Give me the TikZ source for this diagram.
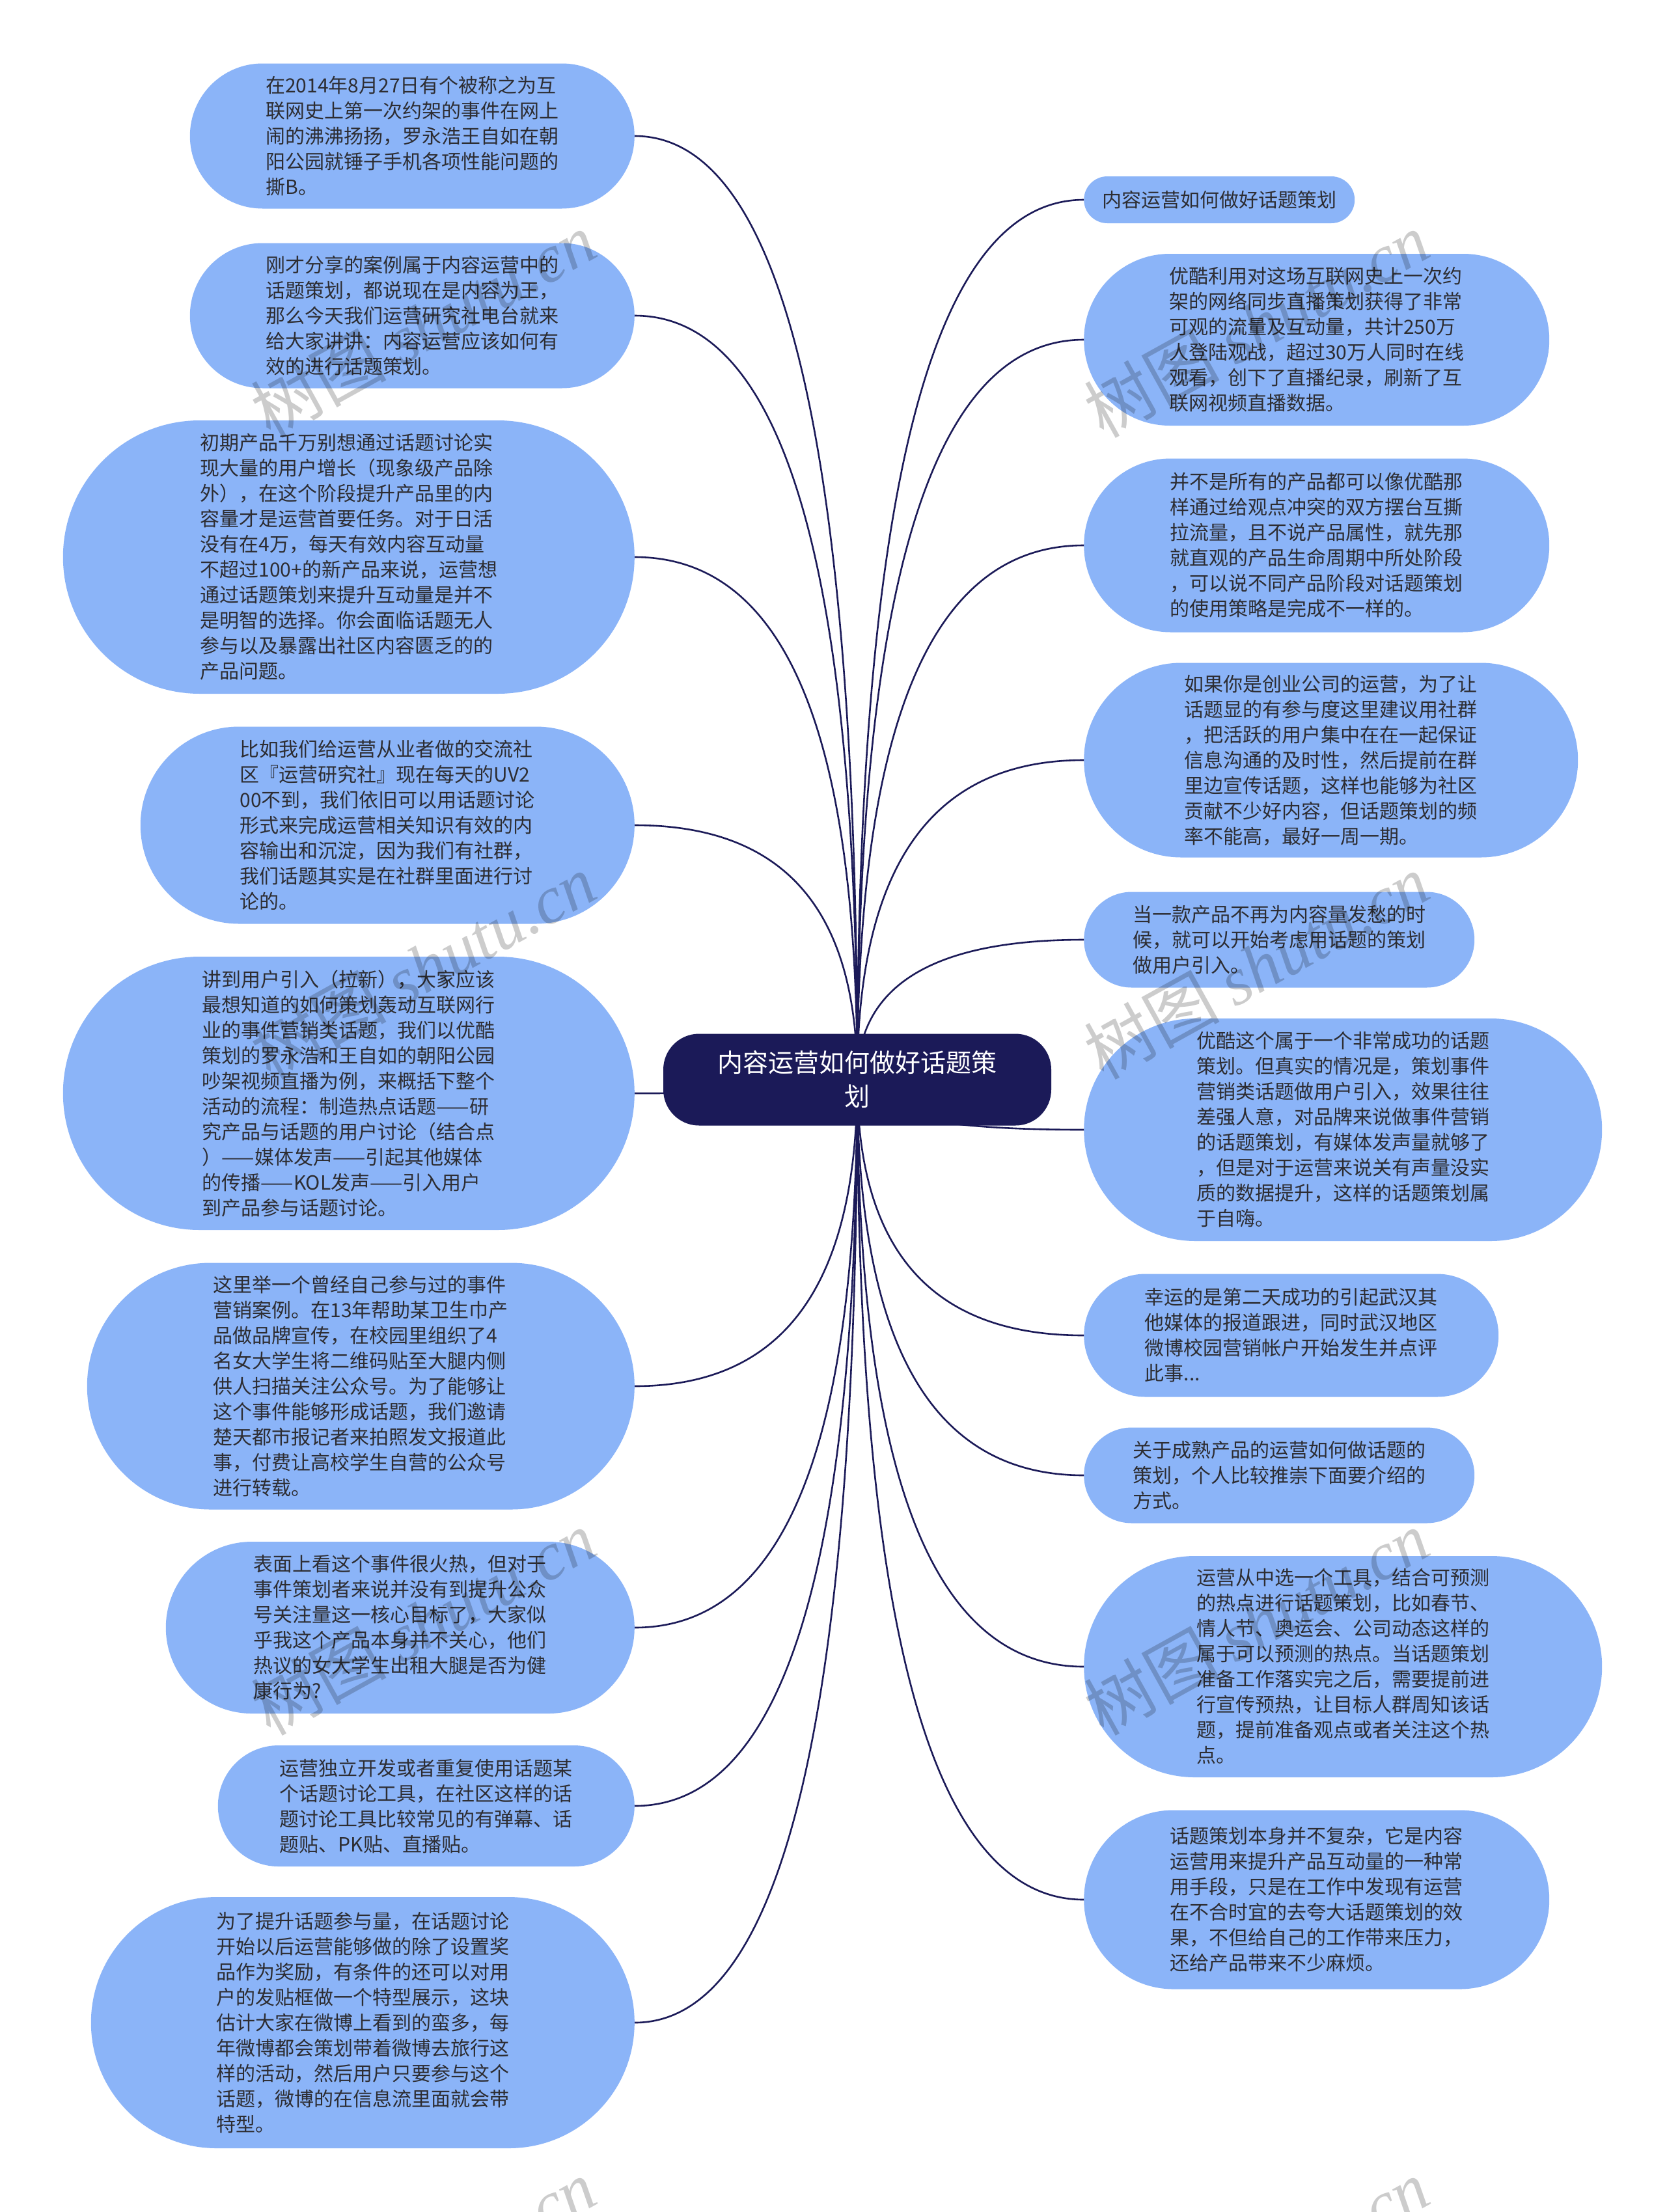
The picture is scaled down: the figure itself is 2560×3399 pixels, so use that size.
\documentclass[tikz,border=0pt]{standalone}
\usepackage{fontspec}
\setmainfont{Noto Sans CJK SC}
\newfontfamily\wmlatin{Liberation Serif}
\usetikzlibrary{shapes.misc,calc}
\definecolor{sky}{RGB}{139,180,248}
\definecolor{navy}{RGB}{27,26,88}
\definecolor{ink}{RGB}{45,45,50}
\tikzset{
  topic/.style={rounded rectangle,fill=sky,text=ink,inner xsep=0pt,inner ysep=0pt,
    align=left,font=\fontsize{30}{39}\selectfont},
  left topic/.style={topic,anchor=east},
  right topic/.style={topic,anchor=west},
  sz/.style 2 args={minimum width=#1,minimum height=#2},
  root/.style={fill=navy,text=white,rounded corners=55pt,inner sep=0pt,
    minimum width=596,minimum height=141,align=center,font=\fontsize{39}{52}\selectfont},
  link/.style={draw=navy,line width=2.6pt},
  wmark/.style={rotate=29,text=black,opacity=0.2,font=\fontsize{104}{104}\selectfont},
}
\begin{document}
\begin{tikzpicture}[x=1pt,y=-1pt]
  \useasboundingbox[fill=white] (0,0) rectangle (2560,3399);
  % left branch
  \node[left topic,sz={683}{223}] (l1) at (975,209) {在2014年8月27日有个被称之为互\\联网史上第一次约架的事件在网上\\闹的沸沸扬扬，罗永浩王自如在朝\\阳公园就锤子手机各项性能问题的\\撕B。};
  \node[left topic,sz={683}{223}] (l2) at (975,485) {刚才分享的案例属于内容运营中的\\话题策划，都说现在是内容为王，\\那么今天我们运营研究社电台就来\\给大家讲讲：内容运营应该如何有\\效的进行话题策划。};
  \node[left topic,sz={878}{420}] (l3) at (975,856) {初期产品千万别想通过话题讨论实\\现大量的用户增长（现象级产品除\\外），在这个阶段提升产品里的内\\容量才是运营首要任务。对于日活\\没有在4万，每天有效内容互动量\\不超过100+的新产品来说，运营想\\通过话题策划来提升互动量是并不\\是明智的选择。你会面临话题无人\\参与以及暴露出社区内容匮乏的的\\产品问题。};
  \node[left topic,sz={759}{303}] (l4) at (975,1268) {比如我们给运营从业者做的交流社\\区『运营研究社』现在每天的UV2\\00不到，我们依旧可以用话题讨论\\形式来完成运营相关知识有效的内\\容输出和沉淀，因为我们有社群，\\我们话题其实是在社群里面进行讨\\论的。};
  \node[left topic,sz={878}{420}] (l5) at (975,1680) {讲到用户引入（拉新），大家应该\\最想知道的如何策划轰动互联网行\\业的事件营销类话题，我们以优酷\\策划的罗永浩和王自如的朝阳公园\\吵架视频直播为例，来概括下整个\\活动的流程：制造热点话题——研\\究产品与话题的用户讨论（结合点\\）——媒体发声——引起其他媒体\\的传播——KOL发声——引入用户\\到产品参与话题讨论。};
  \node[left topic,sz={841}{379}] (l6) at (975,2130) {这里举一个曾经自己参与过的事件\\营销案例。在13年帮助某卫生巾产\\品做品牌宣传，在校园里组织了4\\名女大学生将二维码贴至大腿内侧\\供人扫描关注公众号。为了能够让\\这个事件能够形成话题，我们邀请\\楚天都市报记者来拍照发文报道此\\事，付费让高校学生自营的公众号\\进行转载。};
  \node[left topic,sz={720}{264}] (l7) at (975,2501) {表面上看这个事件很火热，但对于\\事件策划者来说并没有到提升公众\\号关注量这一核心目标了，大家似\\乎我这个产品本身并不关心，他们\\热议的女大学生出租大腿是否为健\\康行为?};
  \node[left topic,sz={640}{186}] (l8) at (975,2775) {运营独立开发或者重复使用话题某\\个话题讨论工具，在社区这样的话\\题讨论工具比较常见的有弹幕、话\\题贴、PK贴、直播贴。};
  \node[left topic,sz={835}{386}] (l9) at (975,3108) {为了提升话题参与量，在话题讨论\\开始以后运营能够做的除了设置奖\\品作为奖励，有条件的还可以对用\\户的发贴框做一个特型展示，这块\\估计大家在微博上看到的蛮多，每\\年微博都会策划带着微博去旅行这\\样的活动，然后用户只要参与这个\\话题，微博的在信息流里面就会带\\特型。};
  % right branch
  \node[right topic,sz={416}{72}] (r1) at (1665,307) {内容运营如何做好话题策划};
  \node[right topic,sz={715}{264}] (r2) at (1665,522) {优酷利用对这场互联网史上一次约\\架的网络同步直播策划获得了非常\\可观的流量及互动量，共计250万\\人登陆观战，超过30万人同时在线\\观看，创下了直播纪录，刷新了互\\联网视频直播数据。};
  \node[right topic,sz={715}{267}] (r3) at (1665,838) {并不是所有的产品都可以像优酷那\\样通过给观点冲突的双方摆台互撕\\拉流量，且不说产品属性，就先那\\就直观的产品生命周期中所处阶段\\，可以说不同产品阶段对话题策划\\的使用策略是完成不一样的。};
  \node[right topic,sz={759}{299}] (r4) at (1665,1168) {如果你是创业公司的运营，为了让\\话题显的有参与度这里建议用社群\\，把活跃的用户集中在在一起保证\\信息沟通的及时性，然后提前在群\\里边宣传话题，这样也能够为社区\\贡献不少好内容，但话题策划的频\\率不能高，最好一周一期。};
  \node[right topic,sz={600}{147}] (r5) at (1665,1444) {当一款产品不再为内容量发愁的时\\候，就可以开始考虑用话题的策划\\做用户引入。};
  \node[right topic,sz={796}{342}] (r6) at (1665,1736) {优酷这个属于一个非常成功的话题\\策划。但真实的情况是，策划事件\\营销类话题做用户引入，效果往往\\差强人意，对品牌来说做事件营销\\的话题策划，有媒体发声量就够了\\，但是对于运营来说关有声量没实\\质的数据提升，这样的话题策划属\\于自嗨。};
  \node[right topic,sz={637}{189}] (r7) at (1665,2052) {幸运的是第二天成功的引起武汉其\\他媒体的报道跟进，同时武汉地区\\微博校园营销帐户开始发生并点评\\此事...};
  \node[right topic,sz={600}{147}] (r8) at (1665,2267) {关于成熟产品的运营如何做话题的\\策划，个人比较推崇下面要介绍的\\方式。};
  \node[right topic,sz={796}{340}] (r9) at (1665,2561) {运营从中选一个工具，结合可预测\\的热点进行话题策划，比如春节、\\情人节、奥运会、公司动态这样的\\属于可以预测的热点。当话题策划\\准备工作落实完之后，需要提前进\\行宣传预热，让目标人群周知该话\\题，提前准备观点或者关注这个热\\点。};
  \node[right topic,sz={715}{275}] (r10) at (1665,2919) {话题策划本身并不复杂，它是内容\\运营用来提升产品互动量的一种常\\用手段，只是在工作中发现有运营\\在不合时宜的去夸大话题策划的效\\果，不但给自己的工作带来压力，\\还给产品带来不少麻烦。};
  % connectors, hidden under the root
  \coordinate (hub) at (1317,1659);
  \foreach \n in {l1,l2,l3,l4,l5,l6,l7,l8,l9}
    \draw[link] (hub) .. controls ($(hub)!0.67!(hub |- \n.east)$) and ($(\n.east)!0.67!(hub |- \n.east)$) .. (\n.east);
  \foreach \n in {r1,r2,r3,r4,r5,r6,r7,r8,r9,r10}
    \draw[link] (hub) .. controls ($(hub)!0.67!(hub |- \n.west)$) and ($(\n.west)!0.67!(hub |- \n.west)$) .. (\n.west);
  \node[root] (root) at (hub) {内容运营如何做好话题策\\划};
  % watermarks
  \foreach \x/\y [count=\i] in {650/499,1930/499,650/1485,1930/1485,650/2493,1930/2493,650/3490,1930/3490}
    \node[wmark] (wm\i) at (\x,\y) {树图 {\wmlatin\itshape shutu.cn}};
\end{tikzpicture}
\end{document}
